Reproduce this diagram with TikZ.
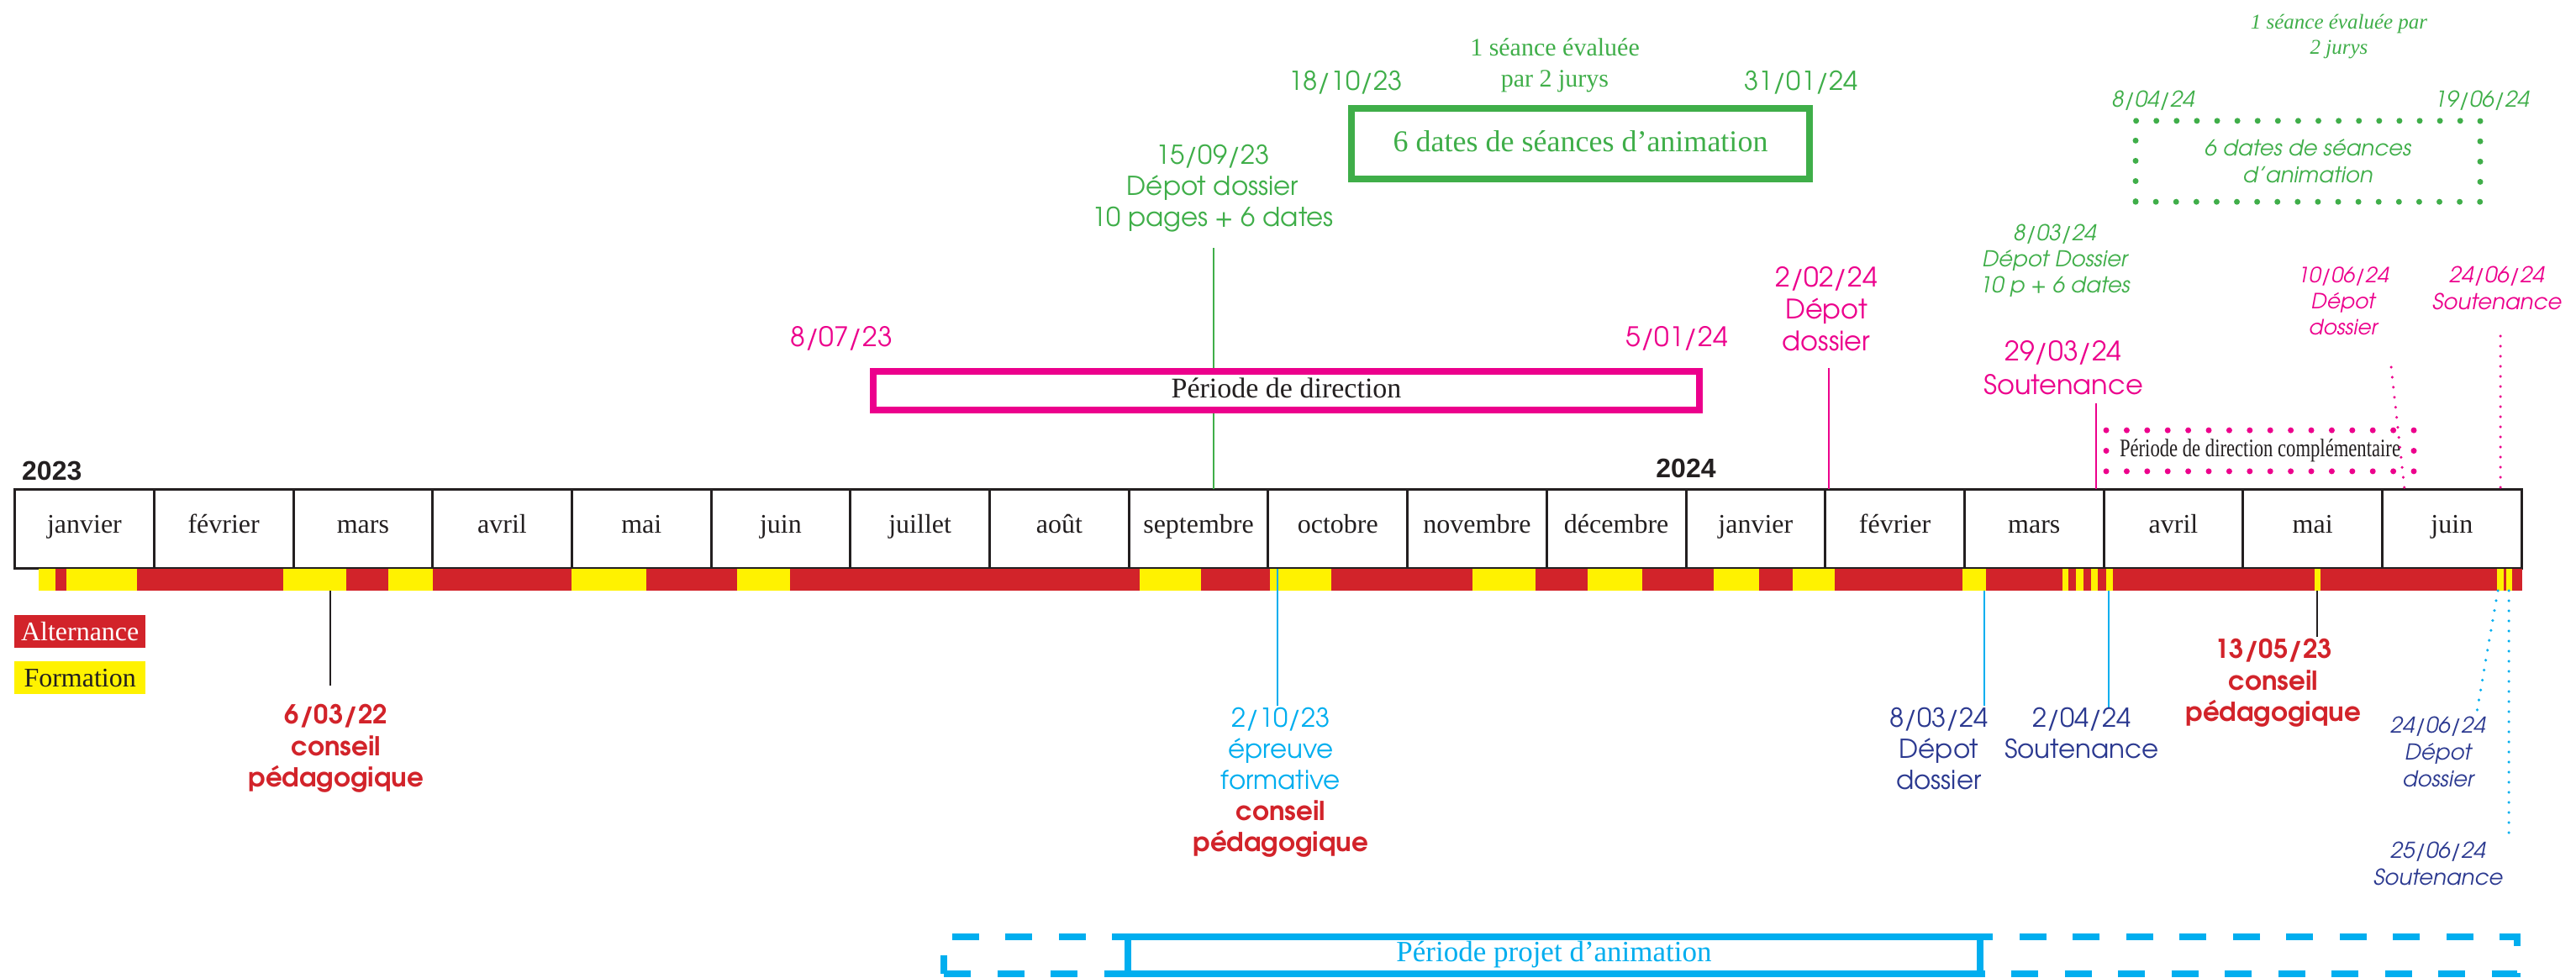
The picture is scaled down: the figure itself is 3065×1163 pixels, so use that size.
\documentclass[tikz,border=0pt]{standalone}
\usepackage{fontspec}
\usepackage{graphicx}
\setmainfont{Liberation Serif}
\newfontfamily\gothic{texgyreadventor}[Extension=.otf, UprightFont=*-regular, BoldFont=*-bold, ItalicFont=*-italic, BoldItalicFont=*-bolditalic]
\newfontfamily\yearfont{Liberation Sans}
\definecolor{cgreen}{HTML}{3FAE49}
\definecolor{cmag}{HTML}{EC008C}
\definecolor{ccyan}{HTML}{00AEEF}
\definecolor{cnavy}{HTML}{2B3990}
\definecolor{cred}{HTML}{D2232A}
\definecolor{cyel}{HTML}{FFF200}
\definecolor{cdark}{HTML}{231F20}
\begin{document}
\begin{tikzpicture}[x=1pt,y=-1pt,
  month/.style={draw=cdark, line width=3pt, minimum width=165.7pt, minimum height=94pt, inner sep=0pt, text height=20pt, text depth=10pt, text=cdark, font=\fontsize{32}{38}\selectfont},
  gs/.style={font=\gothic\fontsize{31}{37}\selectfont, align=center, inner sep=0pt},
  gsl/.style={font=\gothic\fontsize{32}{38}\selectfont, align=center, inner sep=0pt},
  gi/.style={font=\gothic\itshape\fontsize{26}{32}\selectfont, align=center, inner sep=0pt},
  gb/.style={font=\gothic\bfseries\fontsize{31}{37.5}\selectfont, align=center, inner sep=0pt},
  yearlbl/.style={font=\yearfont\bfseries\fontsize{32}{38}\selectfont, text=cdark, inner sep=0pt},
  legend/.style={minimum width=156pt, minimum height=39pt, inner sep=0pt, anchor=north west, font=\fontsize{32}{38}\selectfont},
  dotline/.style={line width=3.5pt, dash pattern=on 0pt off 12pt, line cap=round},
  conn/.style={line width=2.5pt}
]
\useasboundingbox (0,0) rectangle (3065,1163);

% ---- months
\foreach \m [count=\i from 0] in {janvier,février,mars,avril,mai,juin,juillet,août,septembre,octobre,novembre,décembre,janvier,février,mars,avril,mai,juin}
  \node[month] (m\i) at ({17.6+165.7*(\i+0.5)},629) {\m};

% ---- alternance bar
\fill[cred] (46,677) rectangle (3001,703);
\foreach \a/\b in {46/66, 79/163, 337/412, 462/515, 680/769, 877/940, 1356/1429, 1511/1584, 1752/1827, 1889/1954, 2039/2093, 2133/2183, 2335/2363, 2454/2461, 2470/2479, 2488/2496, 2506/2514, 2754/2761, 2971/2979, 2982/2989}
  \fill[cyel] (\a,677) rectangle (\b,703);

% ---- years
\node[yearlbl, anchor=base west] (y2023) at (26,571) {2023};
\node[yearlbl, anchor=base] (y2024) at (2006,568) {2024};

% ---- legend
\node[legend, fill=cred, text=white] (alt) at (17,732) {Alternance};
\node[legend, fill=cyel, text=cdark] (form) at (17,787) {Formation};

% ---- green (top)
\node[gs, text=cgreen, anchor=north] (dep1) at (1443,172) {15/09/23\\Dépot dossier\\10 pages + 6 dates};
\node[gs, text=cgreen, anchor=base] (d1810) at (1601,107) {18/10/23};
\node[gs, text=cgreen, anchor=base] (d3101) at (2143,107) {31/01/24};
\node[inner sep=0pt, text=cgreen, font=\fontsize{30}{37}\selectfont, align=center, anchor=north] (eval1) at (1850,45) {1 séance évaluée\\par 2 jurys};
\node[draw=cgreen, line width=8pt, minimum width=545pt, minimum height=84pt, inner sep=0pt, text=cgreen, font=\fontsize{36}{40}\selectfont, text height=25pt, text depth=7pt] (anim1) at (1880.5,171) {6 dates de séances d’animation};
\coordinate (gA) at (1444,295);
\coordinate (gB) at (1444,582);
\draw[cgreen, line width=2pt] (gA) -- (gB);

% ---- magenta
\node[gsl, text=cmag, anchor=base] (d0807) at (1001,412) {8/07/23};
\node[gsl, text=cmag, anchor=base] (d0501) at (1995,412) {5/01/24};
\node[draw=cmag, line width=8pt, fill=white, minimum width=983pt, minimum height=46pt, inner sep=0pt, text=cdark, font=\fontsize{34}{40}\selectfont, text height=23pt, text depth=7pt] (pdir) at (1530.5,465) {Période de direction};
\node[gsl, text=cmag, anchor=north] (dep2) at (2173,317) {2/02/24\\Dépot\\dossier};
\coordinate (mA) at (2176,438);
\coordinate (mB) at (2176,582);
\draw[cmag, conn] (mA) -- (mB);
\node[font=\gothic\fontsize{32}{40}\selectfont, align=center, inner sep=0pt, text=cmag, anchor=north] (sout1) at (2455,405) {29/03/24\\Soutenance};
\coordinate (sA) at (2494,480);
\coordinate (sB) at (2494,582);
\draw[cmag, conn] (sA) -- (sB);
\node[draw=cmag, line width=7pt, dash pattern=on 0pt off 24.4pt, line cap=round, minimum width=366pt, minimum height=48.8pt, inner sep=0pt, text=cdark] (pcomp) at (2689,536.5) {\scalebox{0.755}[1]{\fontsize{30}{36}\selectfont Période de direction complémentaire}};
\node[font=\gothic\itshape\fontsize{25}{31}\selectfont, align=center, inner sep=0pt, text=cmag, anchor=north] (dep3) at (2788,317) {10/06/24\\Dépot\\dossier};
\node[gi, text=cmag, anchor=north] (sout2) at (2971,317) {24/06/24\\Soutenance};
\coordinate (pA) at (2845,437);
\coordinate (pB) at (2861,582);
\draw[cmag, dotline] (pA) -- (pB);
\coordinate (qA) at (2975,400);
\coordinate (qB) at (2975,582);
\draw[cmag, dotline] (qA) -- (qB);

% ---- green (right)
\node[inner sep=0pt, text=cgreen, font=\itshape\fontsize{25}{30}\selectfont, align=center, anchor=north] (eval2) at (2783,17) {1 séance évaluée par\\2 jurys};
\node[gi, text=cgreen, anchor=base] (d0804) at (2562,127) {8/04/24};
\node[gi, text=cgreen, anchor=base] (d1906) at (2953,127) {19/06/24};
\node[draw=cgreen, line width=7pt, dash pattern=on 0pt off 24.1pt, line cap=round, minimum width=410pt, minimum height=96.4pt, inner sep=0pt, gi, text=cgreen] (anim2) at (2746,192) {6 dates de séances\\d’animation};
\node[font=\gothic\itshape\fontsize{26}{31}\selectfont, align=center, inner sep=0pt, text=cgreen, anchor=north] (dep4) at (2445,267) {8/03/24\\Dépot Dossier\\10 p + 6 dates};

% ---- bottom markers
\coordinate (kA) at (393,703);
\coordinate (kB) at (393,816);
\draw[cdark, conn] (kA) -- (kB);
\node[gb, text=cred, anchor=north] (cp1) at (400,838) {6/03/22\\conseil\\pédagogique};

\coordinate (cA) at (1520,677);
\coordinate (cB) at (1520,840);
\draw[ccyan, conn] (cA) -- (cB);
\node[font=\gothic\fontsize{31}{37}\selectfont, align=center, inner sep=0pt, text=ccyan, anchor=north] (epr) at (1524,842) {2/10/23\\épreuve\\formative\\{\bfseries\color{cred}conseil}\\{\bfseries\color{cred}pédagogique}};

\coordinate (eA) at (2361,703);
\coordinate (eB) at (2361,840);
\draw[ccyan, conn] (eA) -- (eB);
\node[gs, text=cnavy, anchor=north] (dep5) at (2307,842) {8/03/24\\Dépot\\dossier};
\coordinate (fA) at (2509,703);
\coordinate (fB) at (2509,842);
\draw[ccyan, conn] (fA) -- (fB);
\node[gs, text=cnavy, anchor=north] (sout3) at (2477,842) {2/04/24\\Soutenance};

\coordinate (hA) at (2757,703);
\coordinate (hB) at (2757,758);
\draw[cdark, conn] (hA) -- (hB);
\node[gb, text=cred, anchor=north] (cp2) at (2705,760) {13/05/23\\conseil\\pédagogique};

\coordinate (rA) at (2972,703);
\coordinate (rB) at (2946,853);
\draw[ccyan, dotline] (rA) -- (rB);
\coordinate (tA) at (2985,703);
\coordinate (tB) at (2985,998);
\draw[ccyan, dotline] (tA) -- (tB);
\node[gi, text=cnavy, anchor=north] (dep6) at (2901,853) {24/06/24\\Dépot\\dossier};
\node[gi, text=cnavy, anchor=north] (sout4) at (2901,1002) {25/06/24\\Soutenance};

% ---- bottom: projet d'animation
\node[draw=ccyan, line width=8pt, dash pattern=on 32pt off 31.5pt, minimum width=1872pt, minimum height=44pt, inner sep=0pt] (projall) at (2059,1137) {};
\node[draw=ccyan, line width=8pt, fill=white, minimum width=1014pt, minimum height=44pt, inner sep=0pt, text=ccyan, font=\fontsize{35}{40}\selectfont, text height=23pt, text depth=8pt] (proj) at (1849,1137) {Période projet d’animation};
\end{tikzpicture}
\end{document}
